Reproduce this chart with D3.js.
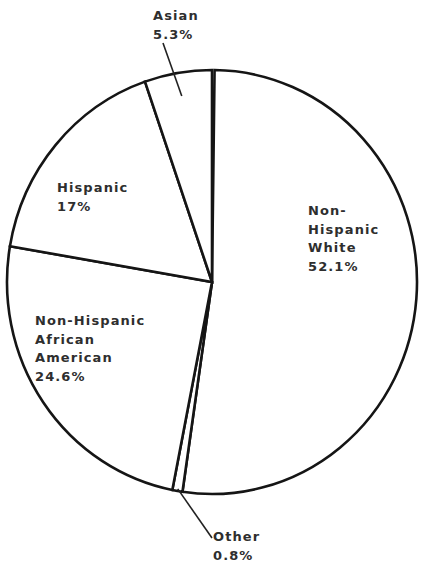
<!DOCTYPE html>
<html>
<head>
<meta charset="utf-8">
<script src="https://cdn.jsdelivr.net/npm/d3@7"></script>
<style>
  html, body { margin: 0; padding: 0; background: #fff; }
  svg { display: block; }
  text { font-family: "DejaVu Sans", Verdana, sans-serif; font-weight: bold; font-size: 13px; letter-spacing: 1.1px; fill: #2e2e2e; }
</style>
</head>
<body>
<div id="chart"></div>
<script>
// Slices, clockwise from twelve o'clock
const categories = ["Non-Hispanic White", "Other", "Non-Hispanic African American", "Hispanic", "Asian"];
const shares = [52.1, 0.8, 24.6, 17, 5.3];
const nameLines = [["Non-", "Hispanic", "White"], ["Other"], ["Non-Hispanic", "African", "American"], ["Hispanic"], ["Asian"]];

const W = 424, H = 562;
const cx = 212, cy = 282, rx = 205, ry = 212;
const lineH = 18.5;

// label anchor (left x, first baseline y) and leader line settings per slice
const labelPos = [
  { x: 308, y: 215 },
  { x: 213, y: 541, leader: { r0: 0.99, to: [212, 538] } },
  { x: 35,  y: 325 },
  { x: 57,  y: 192 },
  { x: 153, y: 20,  leader: { r0: 0.89, to: [163, 43] } }
];

const svg = d3.select("#chart").append("svg")
  .attr("width", W).attr("height", H);

const total = d3.sum(shares);
const pie = d3.pie().sort(null).value(d => d)
  .startAngle(2 * Math.PI * (1 - total / 100))
  .endAngle(2 * Math.PI);
const arcs = pie(shares);

const arc = d3.arc().innerRadius(0).outerRadius(ry);

// the pie is drawn slightly squashed horizontally
const g = svg.append("g")
  .attr("transform", `translate(${cx},${cy}) scale(${rx / ry},1)`);

g.selectAll("path.slice")
  .data(arcs)
  .join("path")
  .attr("class", "slice")
  .attr("d", arc)
  .attr("fill", "#fff")
  .attr("stroke", "#151515")
  .attr("stroke-width", 2.6)
  .attr("stroke-linejoin", "miter")
  .attr("vector-effect", "non-scaling-stroke");

// point on the ellipse at angle a (d3 convention) and relative radius r
const at = (a, r) => [cx + rx * r * Math.sin(a), cy - ry * r * Math.cos(a)];

// leader lines
arcs.forEach((d, i) => {
  const lp = labelPos[i];
  if (!lp.leader) return;
  const mid = (d.startAngle + d.endAngle) / 2;
  const p0 = at(mid, lp.leader.r0);
  svg.append("line")
    .attr("x1", p0[0]).attr("y1", p0[1])
    .attr("x2", lp.leader.to[0]).attr("y2", lp.leader.to[1])
    .attr("stroke", "#222").attr("stroke-width", 1.6);
});

// labels: name lines followed by the share
const labels = svg.selectAll("text.lbl")
  .data(arcs)
  .join("text")
  .attr("class", "lbl")
  .attr("x", (d, i) => labelPos[i].x)
  .attr("y", (d, i) => labelPos[i].y);

labels.each(function (d, i) {
  const lines = nameLines[i].concat([`${shares[i]}%`]);
  d3.select(this).selectAll("tspan")
    .data(lines)
    .join("tspan")
    .attr("x", labelPos[i].x)
    .attr("dy", (t, j) => j === 0 ? 0 : lineH)
    .text(t => t);
});
</script>
</body>
</html>
